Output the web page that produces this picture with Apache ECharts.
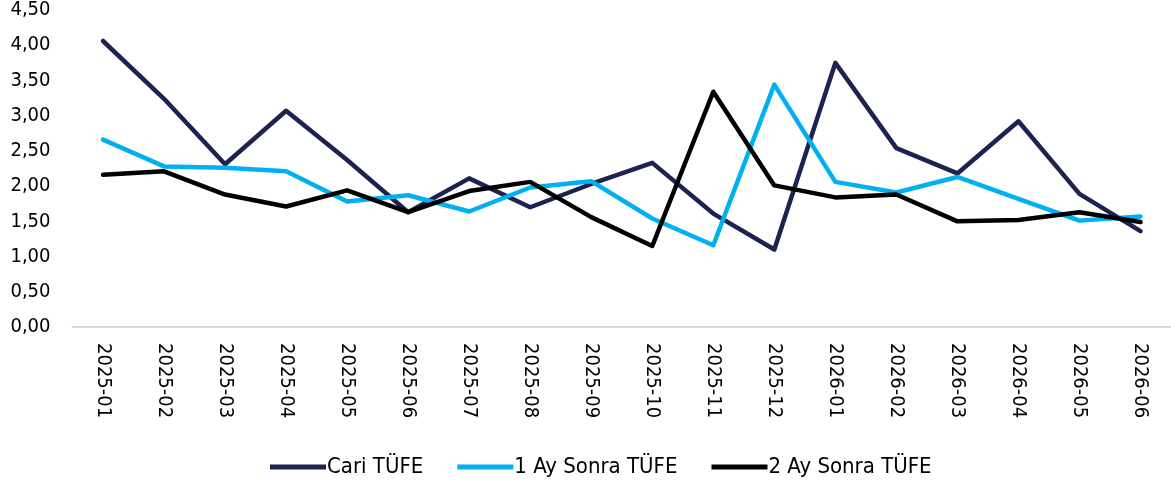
<!DOCTYPE html>
<html>
<head>
<meta charset="utf-8">
<script src="https://cdn.jsdelivr.net/npm/echarts@6/dist/echarts.min.js"></script>
<style>
  html, body { margin: 0; padding: 0; background: #fff; }
  #chart { width: 1171px; height: 483px; }
</style>
</head>
<body>
<div id="chart"></div>
<script>
const months = ['2025-01', '2025-02', '2025-03', '2025-04', '2025-05', '2025-06', '2025-07', '2025-08', '2025-09',
  '2025-10', '2025-11', '2025-12', '2026-01', '2026-02', '2026-03', '2026-04', '2026-05', '2026-06'];

const cariTufe = [4.06, 3.24, 2.31, 3.07, 2.37, 1.63, 2.11, 1.70, 2.03, 2.33, 1.61, 1.10, 3.75, 2.54, 2.18, 2.92, 1.89, 1.36];
const birAySonra = [2.66, 2.28, 2.26, 2.21, 1.78, 1.87, 1.64, 1.98, 2.07, 1.54, 1.16, 3.44, 2.06, 1.91, 2.13, 1.82, 1.51, 1.57];
const ikiAySonra = [2.16, 2.21, 1.88, 1.71, 1.94, 1.63, 1.93, 2.06, 1.56, 1.15, 3.34, 2.01, 1.84, 1.88, 1.50, 1.52, 1.63, 1.49];

const seriesNames = ['Cari TÜFE', '1 Ay Sonra TÜFE', '2 Ay Sonra TÜFE'];
const fontFamily = '"Liberation Sans Narrow", "DejaVu Sans Condensed", "Roboto", sans-serif';

const chart = echarts.init(document.getElementById('chart'));

const lineSeries = (name, data, color) => ({
  name: name,
  type: 'line',
  data: data,
  symbol: 'none',
  smooth: false,
  lineStyle: { color: color, width: 4.5, join: 'round', cap: 'round' },
  itemStyle: { color: color }
});

chart.setOption({
  animation: false,
  backgroundColor: '#fff',
  grid: { left: 72.5, right: 0, top: 9, bottom: 156 },
  legend: {
    data: seriesNames,
    left: 265,
    top: 451,
    itemWidth: 56,
    itemHeight: 5,
    itemGap: 34,
    icon: 'rect',
    textStyle: { fontFamily: fontFamily, fontSize: 22, color: '#000', padding: [0, 0, 0, -4] }
  },
  xAxis: {
    type: 'category',
    data: months,
    boundaryGap: true,
    axisLine: { lineStyle: { color: '#d9d9d9', width: 2 } },
    axisTick: { show: false },
    axisLabel: {
      rotate: -90,
      margin: 16,
      fontFamily: fontFamily,
      fontSize: 20,
      color: '#000',
      interval: 0
    }
  },
  yAxis: {
    type: 'value',
    min: 0,
    max: 4.5,
    interval: 0.5,
    axisLine: { show: false },
    axisTick: { show: false },
    splitLine: { show: false },
    axisLabel: {
      margin: 22,
      fontFamily: fontFamily,
      fontSize: 20,
      color: '#000',
      formatter: v => v.toFixed(2).replace('.', ',')
    }
  },
  series: [
    lineSeries(seriesNames[0], cariTufe, '#1d2251'),
    lineSeries(seriesNames[1], birAySonra, '#00b0f0'),
    lineSeries(seriesNames[2], ikiAySonra, '#000000')
  ]
});
</script>
</body>
</html>
